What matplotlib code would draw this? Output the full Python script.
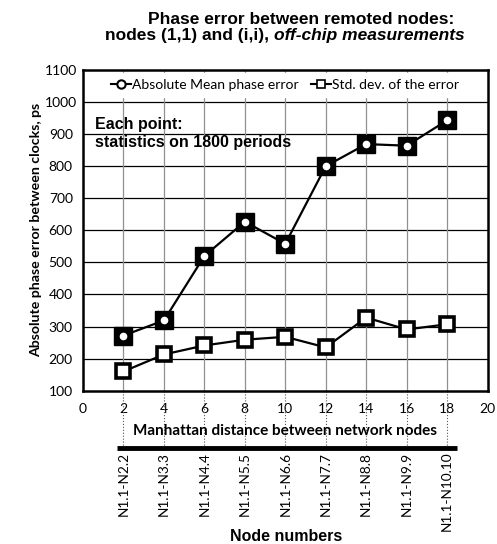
import matplotlib.pyplot as plt
from matplotlib.lines import Line2D
import matplotlib.transforms as mtransforms

# Data
distance = [2, 4, 6, 8, 10, 12, 14, 16, 18]
mean_error = [272, 319, 520, 627, 558, 800, 869, 864, 943]
std_error = [160, 213, 241, 259, 268, 235, 328, 291, 307]
node_labels = ["N1.1-N2.2", "N1.1-N3.3", "N1.1-N4.4", "N1.1-N5.5", "N1.1-N6.6",
               "N1.1-N7.7", "N1.1-N8.8", "N1.1-N9.9", "N1.1-N10.10"]

cal = ["Lato", "DejaVu Sans"]
arial = ["Liberation Sans", "DejaVu Sans"]

fig = plt.figure(figsize=(4.97, 5.44), dpi=100)
ax = fig.add_axes([0.167, 0.2818, 0.814, 0.5895])

# grid
for y in range(200, 1100, 100):
    ax.axhline(y, color="black", lw=0.9, zorder=1)
for x in distance:
    ax.axvline(x, color="#909090", lw=0.9, zorder=1)

# series
ax.plot(distance, std_error, color="black", lw=1.6, marker="s", ms=10,
        mfc="white", mec="black", mew=2.6, zorder=3)
ax.plot(distance, mean_error, color="black", lw=1.6, marker="s", ms=13,
        mfc="black", mec="black", zorder=3)
ax.plot(distance, mean_error, ls="none", marker="o", ms=4.5,
        mfc="white", mec="white", zorder=4)

ax.set_xlim(0, 20)
ax.set_ylim(100, 1100)
ax.set_xticks(range(0, 21, 2))
ax.set_yticks(range(100, 1101, 100))
ax.tick_params(length=0, labelsize=10)
ax.tick_params(axis="y", pad=16)
ax.tick_params(axis="x", pad=9)
for lab in ax.get_yticklabels():
    lab.set_family(cal)
    lab.set_ha("center")
for lab in ax.get_xticklabels():
    lab.set_family(cal)
for s in ax.spines.values():
    s.set_linewidth(1.8)

# legend
handles = [
    Line2D([], [], color="black", lw=1.5, marker="o", ms=6, mfc="white", mew=1.5),
    Line2D([], [], color="black", lw=1.5, marker="s", ms=6, mfc="white", mew=1.2),
]
leg = ax.legend(handles, ["Absolute Mean phase error", "Std. dev. of the error"],
                loc="upper center", bbox_to_anchor=(0.5, 1.0), ncol=2,
                frameon=True, fancybox=False, framealpha=1, edgecolor="white",
                handlelength=1.4, handletextpad=0.1, columnspacing=0.9,
                borderaxespad=0.25, prop={"family": cal, "size": 10})
leg.set_zorder(5)

ax.text(0.03, 0.855, "Each point:\nstatistics on 1800 periods", transform=ax.transAxes,
        fontsize=11.5, fontweight="bold", family=arial, va="top", linespacing=1.25, zorder=6)

ax.set_ylabel("Absolute phase error between clocks, ps", family=cal,
              fontsize=10.2, fontweight="bold", labelpad=2)

# below-axis annotation: dotted guides, thick bar, node labels
trans = mtransforms.blended_transform_factory(ax.transData, ax.transAxes)
for x in distance:
    ax.plot([x, x], [0, -0.179], color="#555555", lw=0.8, ls=":", transform=trans,
            clip_on=False)
ax.plot([1.68, 18.5], [-0.179, -0.179], color="black", lw=3.5, transform=trans,
        clip_on=False, solid_capstyle="butt")
ax.text(10, -0.127, "Manhattan distance between network nodes", transform=trans,
        ha="center", va="center", fontsize=11, fontweight="bold", family=cal)
for x, lab in zip(distance, node_labels):
    ax.text(x, -0.19, lab, transform=trans, rotation=90, ha="center", va="top",
            fontsize=9.8, family=cal)
fig.text(0.575, 0.014, "Node numbers", ha="center", va="center", fontsize=11.5,
         fontweight="bold", family=arial)

# title: two lines, second one partly italic
fig.text(0.606, 0.965, "Phase error between remoted nodes:", ha="center", va="center",
         fontsize=12.5, fontweight="bold", family=arial)
t1 = fig.text(0.212, 0.934, "nodes (1,1) and (i,i), ", ha="left", va="center",
              fontsize=12.5, fontweight="bold", family=arial)
fig.canvas.draw()
bb = t1.get_window_extent()
x_end = fig.transFigure.inverted().transform((bb.x1, bb.y0))[0]
fig.text(x_end, 0.934, "off-chip measurements", ha="left", va="center",
         fontsize=12.5, fontweight="bold", style="italic", family=arial)

fig.savefig("out.png", dpi=100)
